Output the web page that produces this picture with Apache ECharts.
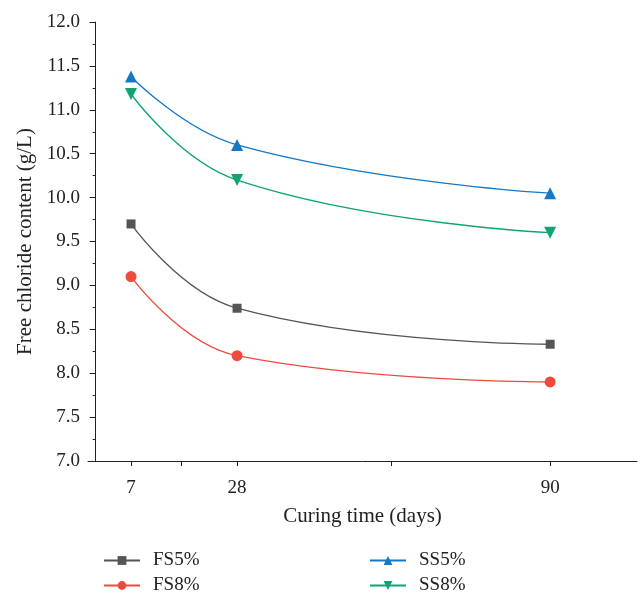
<!DOCTYPE html>
<html>
<head>
<meta charset="utf-8">
<script src="https://cdn.jsdelivr.net/npm/echarts@6/dist/echarts.min.js"></script>
<style>
  html, body { margin: 0; padding: 0; background: #fff; }
  #chart { width: 640px; height: 597px; }
</style>
</head>
<body>
<div id="chart"></div>
<script>
  // curing time (days) and free chloride content (g/L)
  var days = [7, 28, 90];
  var fs5 = [9.70, 8.74, 8.33];
  var fs8 = [9.10, 8.20, 7.90];
  var ss5 = [11.38, 10.60, 10.05];
  var ss8 = [11.18, 10.20, 9.60];
  var xTickValues = [7, 17, 28, 58.5, 90];
  var xLabelValues = [7, 28, 90];

  var font = 'Liberation Serif';
  var chart = echarts.init(document.getElementById('chart'));

  function pairs(ys) {
    return days.map(function (d, i) { return [d, ys[i]]; });
  }

  function line(name, ys, color, symbol, size, rotate) {
    return {
      name: name,
      type: 'line',
      data: pairs(ys),
      smooth: 0.45,
      symbol: symbol,
      symbolSize: size,
      symbolRotate: rotate || 0,
      showAllSymbol: true,
      lineStyle: { color: color, width: 1.3 },
      itemStyle: { color: color },
      emphasis: { disabled: true }
    };
  }

  // one legend per entry so the two columns sit where the original has them
  function legendItem(name, left, top) {
    return {
      data: [name],
      left: left, top: top,
      itemWidth: 36, itemHeight: 11, itemGap: 0,
      textStyle: { fontFamily: font, fontSize: 19, color: '#222', padding: [0, 0, 0, 8] }
    };
  }

  chart.setOption({
    animation: false,
    grid: { left: 88, right: 3, top: 22, bottom: 136 },
    xAxis: {
      type: 'value',
      min: -1.52,
      max: 107.2,
      name: 'Curing time (days)',
      nameLocation: 'middle',
      nameGap: 45,
      nameTextStyle: { fontFamily: font, fontSize: 21, color: '#222' },
      axisLine: { lineStyle: { color: '#222', width: 1 } },
      axisTick: { show: true, length: 5, customValues: xTickValues, lineStyle: { color: '#222' } },
      axisLabel: { customValues: xLabelValues, fontFamily: font, fontSize: 19, color: '#222', margin: 18 },
      splitLine: { show: false }
    },
    yAxis: {
      type: 'value',
      min: 7,
      max: 12,
      interval: 0.5,
      offset: -4,
      name: 'Free chloride content (g/L)',
      nameLocation: 'middle',
      nameGap: 56,
      nameTextStyle: { fontFamily: font, fontSize: 21, color: '#222' },
      axisLine: { show: true, lineStyle: { color: '#222', width: 1 } },
      axisTick: { show: true, length: 6, lineStyle: { color: '#222' } },
      minorTick: { show: true, splitNumber: 2, length: 3, lineStyle: { color: '#222' } },
      axisLabel: {
        fontFamily: font, fontSize: 19, color: '#222', margin: 12,
        formatter: function (v) { return v.toFixed(1); }
      },
      splitLine: { show: false }
    },
    legend: [
      legendItem('FS5%', 98, 546),
      legendItem('FS8%', 98, 571),
      legendItem('SS5%', 364, 546),
      legendItem('SS8%', 364, 571)
    ],
    series: [
      line('FS5%', fs5, '#555555', 'rect', 9),
      line('FS8%', fs8, '#ee4b3f', 'circle', 11),
      line('SS5%', ss5, '#1479c9', 'triangle', 12),
      line('SS8%', ss8, '#0fa570', 'triangle', 12, 180)
    ]
  });
</script>
</body>
</html>
